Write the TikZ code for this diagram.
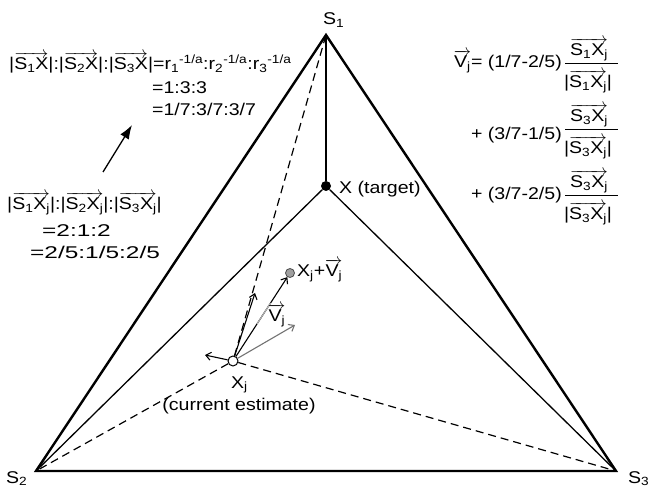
\documentclass[tikz,border=0pt]{standalone}
\usepackage{amsmath}
\usepackage{fontspec}
\setmainfont[FakeStretch=1.15]{Liberation Sans}
\usetikzlibrary{arrows.meta,calc}
\newcommand{\sbs}[1]{\textsubscript{#1}}
\newcommand{\sps}[1]{\textsuperscript{#1}}
\newcommand{\vecm}[1]{\overrightarrow{\mbox{#1}}}
\newcommand{\vecx}[1]{$\vecm{#1}$}
\begin{document}
\begin{tikzpicture}[x=1pt,y=-1pt,
  txt/.style={inner sep=0pt, font=\fontsize{17}{20}\selectfont},
  edgeline/.style={line width=2.4pt, line join=miter},
  innerline/.style={line width=1.3pt},
  dashline/.style={line width=1.2pt, dash pattern=on 8pt off 5pt},
  fracbar/.style={line width=0.9pt},
  smallarrow/.style={line width=1.1pt, -{Straight Barb[length=5pt,width=8pt]}},
  bigarrow/.style={line width=1.3pt, -{Latex[length=14pt,width=10pt]}}]
\useasboundingbox (0,0) rectangle (651,489);
% triangle
\coordinate (S1) at (326,35);
\coordinate (S2) at (36,471);
\coordinate (S3) at (616,471);
\draw[edgeline] (S1) -- (S2) -- (S3) -- cycle;
% target
\node[circle, fill=black, inner sep=0pt, minimum size=10pt] (X) at (326,186) {};
\draw[innerline] (X) -- (S1);
\draw[innerline] (X) -- (S2);
\draw[innerline] (X) -- (S3);
% current estimate
\node[circle, draw=black, fill=white, line width=1pt, inner sep=0pt, minimum size=10pt] (Xj) at (233,361) {};
\draw[dashline] (Xj) -- (S1);
\draw[dashline] (Xj) -- (S2);
\draw[dashline] (Xj) -- (S3);
% vectors at Xj
\node[circle, fill=gray!75, draw=black!70, line width=0.8pt, inner sep=0pt, minimum size=9pt] (XV) at (290,273) {};
\coordinate (aUp) at (255,293);
\coordinate (aLeft) at (205,355);
\coordinate (aRight) at (295,325);
\draw[smallarrow] (Xj) -- (aUp);
\draw[smallarrow] (Xj) -- (aLeft);
\draw[smallarrow, draw=black!55] (Xj) -- (aRight);
\draw[smallarrow] (Xj) -- (XV);
\draw[line width=1.1pt, gray!60] ($(Xj)!0.42!(XV)$) -- ($(Xj)!0.66!(XV)$);
% vertex labels
\node[txt, anchor=base west] (S1l) at (323,25) {S\sbs{1}};
\node[txt, anchor=base west] (S2l) at (6,483) {S\sbs{2}};
\node[txt, anchor=base west] (S3l) at (628,483) {S\sbs{3}};
% point labels
\node[txt, anchor=base west] (Xl) at (339,194) {X (target)};
\node[txt, anchor=base west] (XVl) at (297,277) {X\sbs{j}+\vecx{V\sbs{j}}};
\node[txt, anchor=base west] (Vl) at (268,322) {\vecx{V\sbs{j}}};
\node[txt, anchor=base west] (Xjl) at (231,388) {X\sbs{j}};
\node[txt, anchor=base] (cur) at (239,410) {(current estimate)};
% top-left equations
\node[txt, anchor=base west] (eq1) at (9,70) {|\vecx{S\sbs{1}X}|:|\vecx{S\sbs{2}X}|:|\vecx{S\sbs{3}X}|=r\sbs{1}\sps{-1/a}:r\sbs{2}\sps{-1/a}:r\sbs{3}\sps{-1/a}};
\node[txt, anchor=base west] (eq2) at (152,94) {=1:3:3};
\node[txt, anchor=base west] (eq3) at (152,116) {=1/7:3/7:3/7};
\coordinate (arT) at (103,172);
\coordinate (arH) at (132,125);
\draw[bigarrow] (arT) -- (arH);
% left equations
\node[txt, anchor=base west] (eq4) at (7,210) {|\vecx{S\sbs{1}X\sbs{j}}|:|\vecx{S\sbs{2}X\sbs{j}}|:|\vecx{S\sbs{3}X\sbs{j}}|};
\node[txt, anchor=base west] (eq5) at (42,237) {\scalebox{1.25}[1]{=2:1:2}};
\node[txt, anchor=base west] (eq6) at (30,259) {\scalebox{1.25}[1]{=2/5:1/5:2/5}};
% right equations
\node[txt, anchor=base east] (v1) at (562,68) {\vecx{V\sbs{j}}= (1/7-2/5)};
\node[txt, anchor=base] (n1) at (589,56) {\vecx{S\sbs{1}X\sbs{j}}};
\coordinate (b1l) at (565,63);
\coordinate (b1r) at (618,63);
\draw[fracbar] (b1l) -- (b1r);
\node[txt, anchor=base] (d1) at (588,88) {|\vecx{S\sbs{1}X\sbs{j}}|};
\node[txt, anchor=base east] (v2) at (562,140) {+ (3/7-1/5)};
\node[txt, anchor=base] (n2) at (589,122) {\vecx{S\sbs{3}X\sbs{j}}};
\coordinate (b2l) at (565,129);
\coordinate (b2r) at (618,129);
\draw[fracbar] (b2l) -- (b2r);
\node[txt, anchor=base] (d2) at (588,154) {|\vecx{S\sbs{3}X\sbs{j}}|};
\node[txt, anchor=base east] (v3) at (562,200) {+ (3/7-2/5)};
\node[txt, anchor=base] (n3) at (589,188) {\vecx{S\sbs{3}X\sbs{j}}};
\coordinate (b3l) at (565,195);
\coordinate (b3r) at (618,195);
\draw[fracbar] (b3l) -- (b3r);
\node[txt, anchor=base] (d3) at (588,220) {|\vecx{S\sbs{3}X\sbs{j}}|};
\end{tikzpicture}
\end{document}
